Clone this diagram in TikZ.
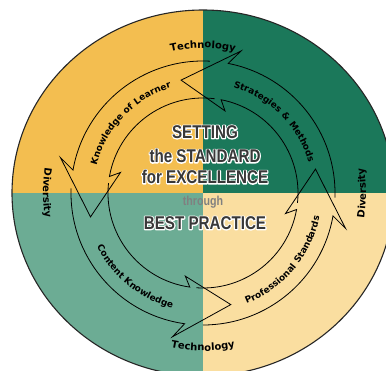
\documentclass[tikz,border=0pt]{standalone}
\usepackage{fontspec}
\usetikzlibrary{decorations.text}

\newfontfamily\ringfont[LetterSpace=5]{DejaVu Sans}
\newfontfamily\ctrfont[FakeStretch=0.82]{Liberation Sans}
\newcommand\arclblfont{\ringfont\bfseries\fontsize{9}{10}\selectfont}
\newcommand\edgelblfont{\ringfont\bfseries\fontsize{10}{12}\selectfont}
% white outline under the centre letters
\newcommand\haloed[1]{\rlap{\special{pdf:literal direct 1 Tr 2.2 w 1 j 1 1 1 RG}#1\special{pdf:literal direct 0 Tr}}#1}

\definecolor{qyellow}{RGB}{243,190,80}
\definecolor{qgreen}{RGB}{27,120,90}
\definecolor{qteal}{RGB}{108,172,148}
\definecolor{qcream}{RGB}{250,222,160}

\tikzset{
  rim/.style={draw=black!85, line width=1.1pt},
  arrowline/.style={draw=black, line width=0.8pt, line join=miter},
  arclabel/.style={decorate, decoration={text along path, text align=center,
    text={|\arclblfont|#1}}},
  edgelabel/.style={decorate, decoration={text along path, text align=center,
    text={|\edgelblfont|#1}}},
  ctrtext/.style={font=\ctrfont\bfseries\fontsize{18.5}{19}\selectfont,
    text=black!78, inner sep=0pt}
}

\begin{document}
\begin{tikzpicture}[x=1pt,y=1pt]
  \useasboundingbox (-203,-177) rectangle (183,193);

  % quadrants
  \begin{scope}
    \clip (0,0) ellipse [x radius=191pt, y radius=183pt];
    \fill[qyellow] (-200,0) rectangle (0,200);
    \fill[qgreen] (0,0) rectangle (200,200);
    \fill[qteal] (-200,-200) rectangle (0,0);
    \fill[qcream] (0,0) rectangle (200,-200);
  \end{scope}
  \draw[rim] (0,0) ellipse [x radius=191pt, y radius=183pt];

  % the four curved arrows
  \foreach \t/\p in {12/-76,101/12,192/101,284/192}
    \draw[arrowline] ({\p-14}:132) arc[start angle=\p-14, end angle=\t-22, radius=132pt]
      -- ({\t-26}:147) -- (\t:115) -- ({\t-26}:85) -- ({\t-22}:95)
      arc[start angle=\t-22, end angle=\p-18, radius=95pt];

  % arrow labels
  \path[arclabel={Knowledge of Learner}] (172:110) arc[start angle=172, end angle=100, radius=110pt];
  \path[arclabel={Strategies {\&} Methods}] (82:110) arc[start angle=82, end angle=8, radius=110pt];
  \path[arclabel={Content Knowledge}] (194:119) arc[start angle=194, end angle=268, radius=119pt];
  \path[arclabel={Professional Standards}] (283:119) arc[start angle=283, end angle=357, radius=119pt];

  % rim labels
  \path[edgelabel={Technology}] (125:145) arc[start angle=125, end angle=55, radius=145pt];
  \path[edgelabel={Technology}] (235:158) arc[start angle=235, end angle=305, radius=158pt];
  \path[edgelabel={Diversity}] (158:160) arc[start angle=158, end angle=202, radius=160pt];
  \path[edgelabel={Diversity}] (-22:163) arc[start angle=-22, end angle=22, radius=163pt];

  % centre text
  \node[ctrtext] (setting) at (2,61) {\haloed{SETTING}};
  \node[ctrtext] (standard) at (2,37) {\haloed{the STANDARD}};
  \node[ctrtext] (excellence) at (2,16) {\haloed{for EXCELLENCE}};
  \node[font=\ctrfont\bfseries\fontsize{13}{14}\selectfont, text=black!50, inner sep=0pt] (through) at (0,-9) {through};
  \node[ctrtext] (practice) at (2,-30) {\haloed{BEST PRACTICE}};
\end{tikzpicture}
\end{document}
